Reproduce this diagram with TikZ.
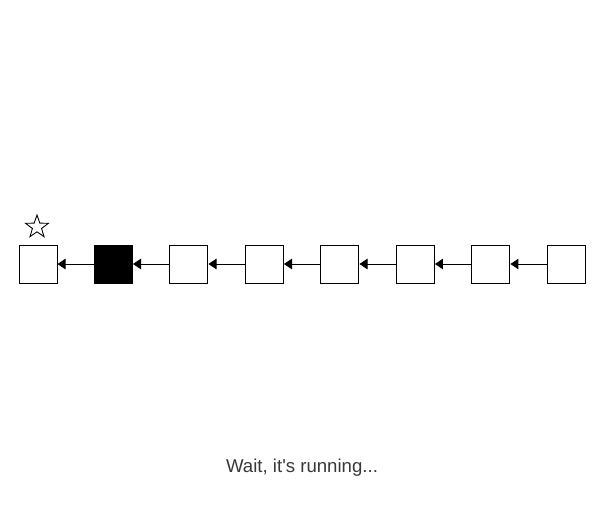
\documentclass[tikz,border=0pt]{standalone}
\usepackage{fontspec}
\setmainfont{Liberation Sans}
\usetikzlibrary{positioning,shapes.geometric,arrows.meta}

\begin{document}
\begin{tikzpicture}[x=0.02cm, y=-0.02cm, >={Triangle[length=4.6pt,width=6pt]}, node distance=1.51cm, on grid, line width=0.55pt,
  cell/.style={draw, minimum size=0.76cm, inner sep=0pt},
  mark star/.style={draw, star, star points=5, star point ratio=2.5, minimum size=0.48cm, inner sep=0pt, line width=0.5pt}]
  \useasboundingbox (0,0) rectangle (605,529);

  \node[cell] (c1) at (38,264) {};
  \node[cell, fill=black] (c2) [right=of c1] {};
  \foreach \i [count=\j from 2] in {3,...,8}
    \node[cell] (c\i) [right=of c\j] {};

  \foreach \i [count=\j] in {2,...,8}
    \draw[->] (c\i) -- (c\j);

  \node[mark star] (top) at (37,227) {}; % marks the head
  \node[text=black!78, font=\fontsize{10.6}{12}\selectfont] (msg) at (302,468) {Wait, it\textquotesingle s running...};
\end{tikzpicture}
\end{document}
